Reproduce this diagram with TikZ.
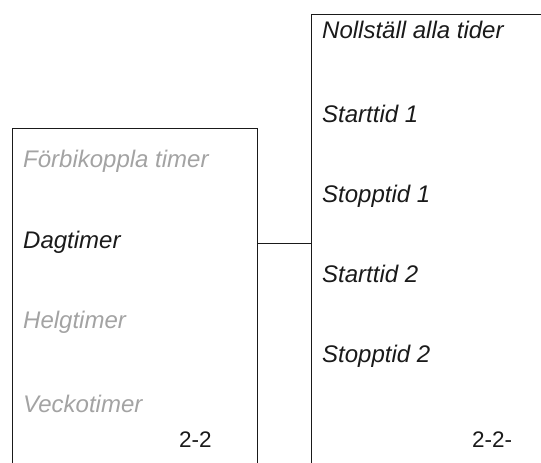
\documentclass[tikz,border=0pt]{standalone}
\usepackage{fontspec}
\setmainfont{Liberation Sans}
\definecolor{dimgrey}{HTML}{A3A3A3}
\definecolor{ink}{HTML}{1A1A1A}
\begin{document}
\begin{tikzpicture}[x=1pt,y=-1pt,
  item/.style={anchor=base west,inner sep=0pt,font=\fontsize{24}{27}\selectfont\itshape,text=ink},
  greyitem/.style={item,text=dimgrey},
  pagenum/.style={anchor=base west,inner sep=0pt,font=\fontsize{22.5}{26}\selectfont,text=ink},
  frame/.style={draw=ink,line width=0.9pt}]
\useasboundingbox (0,0) rectangle (541,463);
% left box
\coordinate (lbl) at (12,463);
\coordinate (ltl) at (12,128);
\coordinate (ltr) at (257,128);
\coordinate (lbr) at (257,463);
\draw[frame] (lbl) -- (ltl) -- (ltr) -- (lbr);
% right box
\coordinate (rbl) at (311,463);
\coordinate (rtl) at (311,14);
\coordinate (rtr) at (541,14);
\draw[frame] (rbl) -- (rtl) -- (rtr);
% connector
\coordinate (cl) at (257,243);
\coordinate (cr) at (311,243);
\draw[frame] (cl) -- (cr);
% left texts
\node[greyitem] (t1) at (23,167) {Förbikoppla timer};
\node[item] (t2) at (23,248) {Dagtimer};
\node[greyitem] (t3) at (23,328) {Helgtimer};
\node[greyitem] (t4) at (23,412) {Veckotimer};
\node[pagenum] (p1) at (179,447) {2-2};
% right texts
\node[item] (r1) at (322,38) {Nollställ alla tider};
\node[item] (r2) at (322,122) {Starttid 1};
\node[item] (r3) at (322,202) {Stopptid 1};
\node[item] (r4) at (322,282) {Starttid 2};
\node[item] (r5) at (322,362) {Stopptid 2};
\node[pagenum] (p2) at (472,447) {2-2-};
\end{tikzpicture}
\end{document}
